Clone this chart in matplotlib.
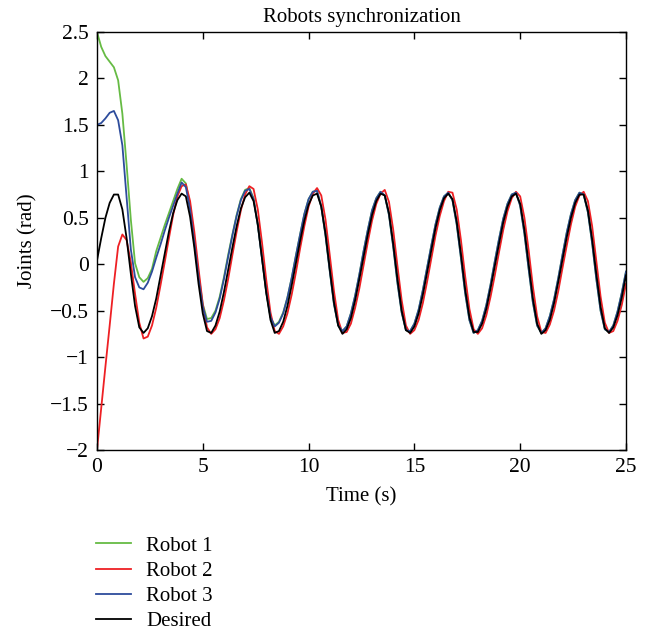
"""
============================================================================
SINCRONIZACIÓN DE ROBOTS
Articulaciones de los tres robots frente a la trayectoria deseada
============================================================================
"""

import numpy as np
import matplotlib
matplotlib.use('Agg')
import matplotlib.pyplot as plt
from matplotlib.lines import Line2D

# Tiempo de muestreo (s), un valor cada 0.2 s
tiempo = np.linspace(0, 25, 126)

# Valores (rad)
robot_1 = [2.50, 2.34, 2.24, 2.18, 2.12, 1.98, 1.62, 1.07, 0.48, 0.01,
           -0.14, -0.19, -0.15, -0.05, 0.14, 0.28, 0.42, 0.55, 0.68, 0.81,
           0.92, 0.87, 0.63, 0.27, -0.11, -0.43, -0.59, -0.58, -0.50, -0.35,
           -0.14, 0.10, 0.32, 0.53, 0.70, 0.80, 0.82, 0.71, 0.42, 0.07,
           -0.30, -0.57, -0.66, -0.62, -0.52, -0.36, -0.15, 0.09, 0.32, 0.54,
           0.70, 0.78, 0.79, 0.62, 0.31, -0.07, -0.43, -0.66, -0.72, -0.67,
           -0.53, -0.34, -0.11, 0.14, 0.37, 0.58, 0.71, 0.78, 0.74, 0.53,
           0.19, -0.20, -0.52, -0.71, -0.72, -0.64, -0.49, -0.28, -0.04, 0.20,
           0.43, 0.61, 0.73, 0.77, 0.69, 0.43, 0.07, -0.31, -0.60, -0.74,
           -0.71, -0.61, -0.44, -0.22, 0.03, 0.27, 0.49, 0.65, 0.75, 0.77,
           0.63, 0.33, -0.05, -0.41, -0.66, -0.74, -0.69, -0.56, -0.38, -0.15,
           0.10, 0.34, 0.54, 0.69, 0.77, 0.75, 0.56, 0.23, -0.16, -0.50,
           -0.70, -0.73, -0.66, -0.51, -0.31, -0.08]

robot_2 = [-2.00, -1.55, -1.10, -0.66, -0.21, 0.19, 0.32, 0.26, 0.02, -0.32,
           -0.63, -0.80, -0.78, -0.66, -0.47, -0.23, 0.02, 0.28, 0.53, 0.73,
           0.84, 0.86, 0.68, 0.35, -0.05, -0.43, -0.68, -0.75, -0.70, -0.58,
           -0.39, -0.16, 0.10, 0.35, 0.58, 0.75, 0.84, 0.81, 0.59, 0.23,
           -0.17, -0.52, -0.72, -0.75, -0.67, -0.53, -0.33, -0.09, 0.17, 0.41,
           0.62, 0.76, 0.82, 0.74, 0.48, 0.10, -0.29, -0.60, -0.74, -0.73,
           -0.64, -0.47, -0.26, -0.01, 0.24, 0.47, 0.65, 0.76, 0.80, 0.67,
           0.37, -0.02, -0.39, -0.66, -0.75, -0.71, -0.60, -0.42, -0.19, 0.06,
           0.31, 0.52, 0.68, 0.78, 0.77, 0.59, 0.26, -0.13, -0.48, -0.70,
           -0.75, -0.69, -0.55, -0.35, -0.12, 0.13, 0.37, 0.57, 0.71, 0.78,
           0.73, 0.50, 0.15, -0.24, -0.56, -0.73, -0.74, -0.65, -0.50, -0.29,
           -0.04, 0.20, 0.43, 0.62, 0.74, 0.78, 0.68, 0.41, 0.03, -0.35,
           -0.63, -0.74, -0.72, -0.61, -0.44, -0.21]

robot_3 = [1.50, 1.52, 1.57, 1.63, 1.65, 1.55, 1.28, 0.72, 0.16, -0.14,
           -0.25, -0.27, -0.20, -0.08, 0.07, 0.21, 0.36, 0.50, 0.63, 0.76,
           0.88, 0.83, 0.59, 0.23, -0.15, -0.46, -0.62, -0.61, -0.52, -0.37,
           -0.16, 0.08, 0.31, 0.52, 0.69, 0.79, 0.81, 0.70, 0.42, 0.06,
           -0.30, -0.57, -0.67, -0.63, -0.53, -0.36, -0.15, 0.09, 0.32, 0.54,
           0.70, 0.78, 0.79, 0.62, 0.31, -0.07, -0.43, -0.66, -0.72, -0.67,
           -0.53, -0.34, -0.11, 0.14, 0.37, 0.58, 0.71, 0.78, 0.74, 0.53,
           0.19, -0.20, -0.52, -0.71, -0.72, -0.64, -0.49, -0.28, -0.04, 0.20,
           0.43, 0.61, 0.73, 0.77, 0.69, 0.43, 0.07, -0.31, -0.60, -0.74,
           -0.71, -0.61, -0.44, -0.22, 0.03, 0.27, 0.49, 0.65, 0.75, 0.77,
           0.63, 0.33, -0.05, -0.41, -0.66, -0.74, -0.69, -0.56, -0.38, -0.15,
           0.10, 0.34, 0.54, 0.69, 0.77, 0.75, 0.56, 0.23, -0.16, -0.50,
           -0.70, -0.73, -0.66, -0.51, -0.31, -0.08]

deseada = [0.04, 0.28, 0.50, 0.66, 0.75, 0.75, 0.59, 0.28, -0.10, -0.45,
           -0.68, -0.74, -0.69, -0.56, -0.37, -0.13, 0.11, 0.35, 0.55, 0.69,
           0.76, 0.73, 0.51, 0.18, -0.21, -0.53, -0.72, -0.74, -0.66, -0.51,
           -0.30, -0.06, 0.18, 0.41, 0.60, 0.72, 0.77, 0.68, 0.43, 0.06,
           -0.31, -0.60, -0.74, -0.72, -0.62, -0.45, -0.23, 0.01, 0.25, 0.47,
           0.64, 0.74, 0.76, 0.62, 0.33, -0.05, -0.41, -0.66, -0.75, -0.70,
           -0.58, -0.39, -0.16, 0.08, 0.32, 0.53, 0.68, 0.76, 0.74, 0.55,
           0.22, -0.16, -0.50, -0.71, -0.74, -0.67, -0.53, -0.33, -0.09, 0.15,
           0.39, 0.58, 0.71, 0.76, 0.70, 0.46, 0.11, -0.27, -0.57, -0.73,
           -0.73, -0.64, -0.48, -0.26, -0.02, 0.22, 0.45, 0.62, 0.73, 0.76,
           0.65, 0.37, 0.00, -0.37, -0.64, -0.75, -0.71, -0.60, -0.42, -0.19,
           0.05, 0.29, 0.50, 0.66, 0.75, 0.75, 0.58, 0.27, -0.11, -0.46,
           -0.69, -0.74, -0.68, -0.55, -0.36, -0.12]

etiquetas = ['Robot 1', 'Robot 2', 'Robot 3', 'Desired']
colores = ['#66bb44', '#ee2024', '#2d4c9c', 'black']
ticks_x = [0, 5, 10, 15, 20, 25]
ticks_y = [-2, -1.5, -1, -0.5, 0, 0.5, 1, 1.5, 2, 2.5]

plt.rcParams['font.family'] = 'Liberation Serif'


def etiqueta_tick(valor, pos):
    """Formato tipo Matlab con signo menos largo."""
    return f"{valor:g}".replace('-', '\u2212')


fig = plt.figure(figsize=(6.57, 6.36), dpi=100)
ax = fig.add_axes([0.1476, 0.2925, 0.8052, 0.6572])

series = [robot_1, robot_2, robot_3, deseada]
for datos, color in zip(series, colores):
    ax.plot(tiempo, datos, color=color, linewidth=1.3,
            solid_joinstyle='round')

ax.set_xlim(0, 25)
ax.set_ylim(-2, 2.5)
ax.set_xticks(ticks_x)
ax.set_yticks(ticks_y)
ax.xaxis.set_major_formatter(plt.FuncFormatter(etiqueta_tick))
ax.yaxis.set_major_formatter(plt.FuncFormatter(etiqueta_tick))
ax.tick_params(direction='in', top=True, right=True, length=5, width=1,
               labelsize=15.5, pad=6)
for borde in ax.spines.values():
    borde.set_linewidth(1)

ax.set_title("Robots synchronization", fontsize=15, pad=7)
ax.set_xlabel("Time (s)", fontsize=15, labelpad=7)
ax.set_ylabel("Joints (rad)", fontsize=15, labelpad=9)

# Leyenda debajo del gráfico, sin marco
manejadores = [Line2D([], [], color=c, linewidth=1.3) for c in colores]
fig.legend(manejadores, etiquetas, loc='upper left',
           bbox_to_anchor=(0.146, 0.157), frameon=False, fontsize=15,
           handlelength=1.7, handletextpad=0.72, labelspacing=0.27,
           borderpad=0, borderaxespad=0)

fig.savefig("out.png", dpi=100)
